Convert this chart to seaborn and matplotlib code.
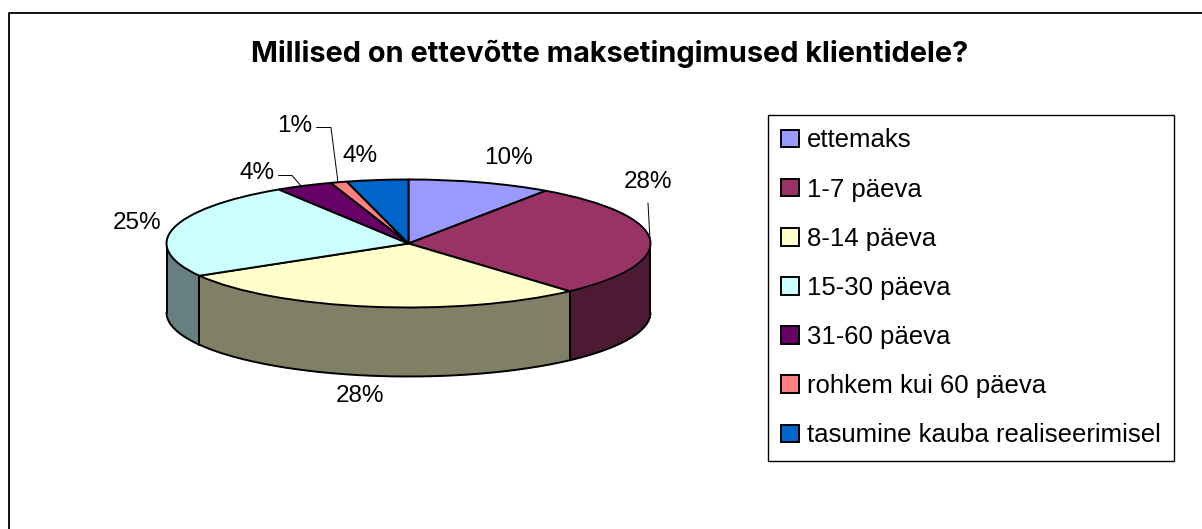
import numpy as np
import matplotlib
matplotlib.use("Agg")
import matplotlib.pyplot as plt
from matplotlib.lines import Line2D
from matplotlib.transforms import Affine2D
import seaborn as sns

title = "Millised on ettevõtte maksetingimused klientidele?"
categories = ["ettemaks", "1-7 päeva", "8-14 päeva", "15-30 päeva", "31-60 päeva",
              "rohkem kui 60 päeva", "tasumine kauba realiseerimisel"]
# slice sizes, printed labels below
shares = [9.6, 28.8, 28.2, 24.4, 3.8, 1.1, 4.1]
percent_labels = ["10%", "28%", "28%", "25%", "4%", "1%", "4%"]
top_colors = ["#9999FF", "#993366", "#FFFFCC", "#CCFFFF", "#660066", "#FF8080", "#0066CC"]

W, H = 1202, 529
CX, CY, RX, RY, DEPTH = 408.5, 243.5, 242, 64, 69

sns.set_theme(style="white")
plt.rcParams["font.family"] = ["Liberation Sans", "DejaVu Sans"]

fig = plt.figure(figsize=(W / 100, H / 100), dpi=100, facecolor="white")
ax = fig.add_axes([0, 0, 1, 1])
palette = sns.color_palette(top_colors)

# front walls, half brightness of the top colour
edges = 90 - 360 * np.cumsum([0] + shares) / sum(shares)
d = DEPTH / RY
for i, col in enumerate(palette):
    t = np.linspace(edges[i], edges[i + 1], 200)
    t = t[np.sin(np.radians(t)) <= 0]
    if len(t) < 2:
        continue
    x = np.cos(np.radians(t))
    y = np.sin(np.radians(t))
    ax.fill_between(x, y, y - d, color=tuple(c * 0.5 for c in col), lw=0)
    ax.plot(x, y - d, color="black", lw=1.4, solid_capstyle="round")
    for k in (0, -1):
        ax.plot([x[k], x[k]], [y[k], y[k] - d], color="black", lw=1.4)

wedges, _ = ax.pie(shares, colors=palette, startangle=90, counterclock=False, radius=1,
                   wedgeprops={"edgecolor": "black", "linewidth": 1.4}, frame=True)
for w in wedges:
    w.set_zorder(3)

ax.set_aspect("auto")
ax.set_xlim(-CX / RX, (W - CX) / RX)
ax.set_ylim((CY - H) / RY, CY / RY)
ax.set_xticks([])
ax.set_yticks([])
for s in ax.spines.values():
    s.set_visible(False)

# pixel coords for the text and leader lines, y down like the screenshot
px = Affine2D().scale(1 / W, -1 / H).translate(0, 1) + fig.transFigure

fig.add_artist(Line2D([8.5, 8.5, W], [H, 12.5, 12.5], transform=px, color="black", lw=1.3))
fig.text(610, 54, title, transform=px, ha="center", va="center",
         fontsize=20.8, fontweight="bold", color="black", family=["Inter", "Liberation Sans"])

label_pos = [(508, 158), (648, 182), (360, 396), (137, 223), (257, 173), (295, 126), (360, 156)]
for lab, (x, y) in zip(percent_labels, label_pos):
    fig.text(x, y, lab, transform=px, ha="center", va="center", fontsize=17.5, color="black")

leaders = [([316.5, 331, 338], [127.5, 127.5, 182.5]),
           ([278.5, 292, 302], [175.5, 175.5, 187]),
           ([648, 650], [203, 240])]
for xs, ys in leaders:
    fig.add_artist(Line2D(xs, ys, transform=px, color="black", lw=0.7))

leg = ax.legend(wedges, categories, loc="upper left", bbox_to_anchor=(768 / W, 1 - 115 / H),
                bbox_transform=fig.transFigure, fontsize=18.5, frameon=True, fancybox=False,
                framealpha=1, edgecolor="black", borderaxespad=0, borderpad=0.52,
                labelspacing=0.98, handlelength=0.68, handleheight=0.68, handletextpad=0.3,
                labelcolor="black")
leg.get_frame().set_linewidth(1)

fig.savefig("out.png", dpi=100)
